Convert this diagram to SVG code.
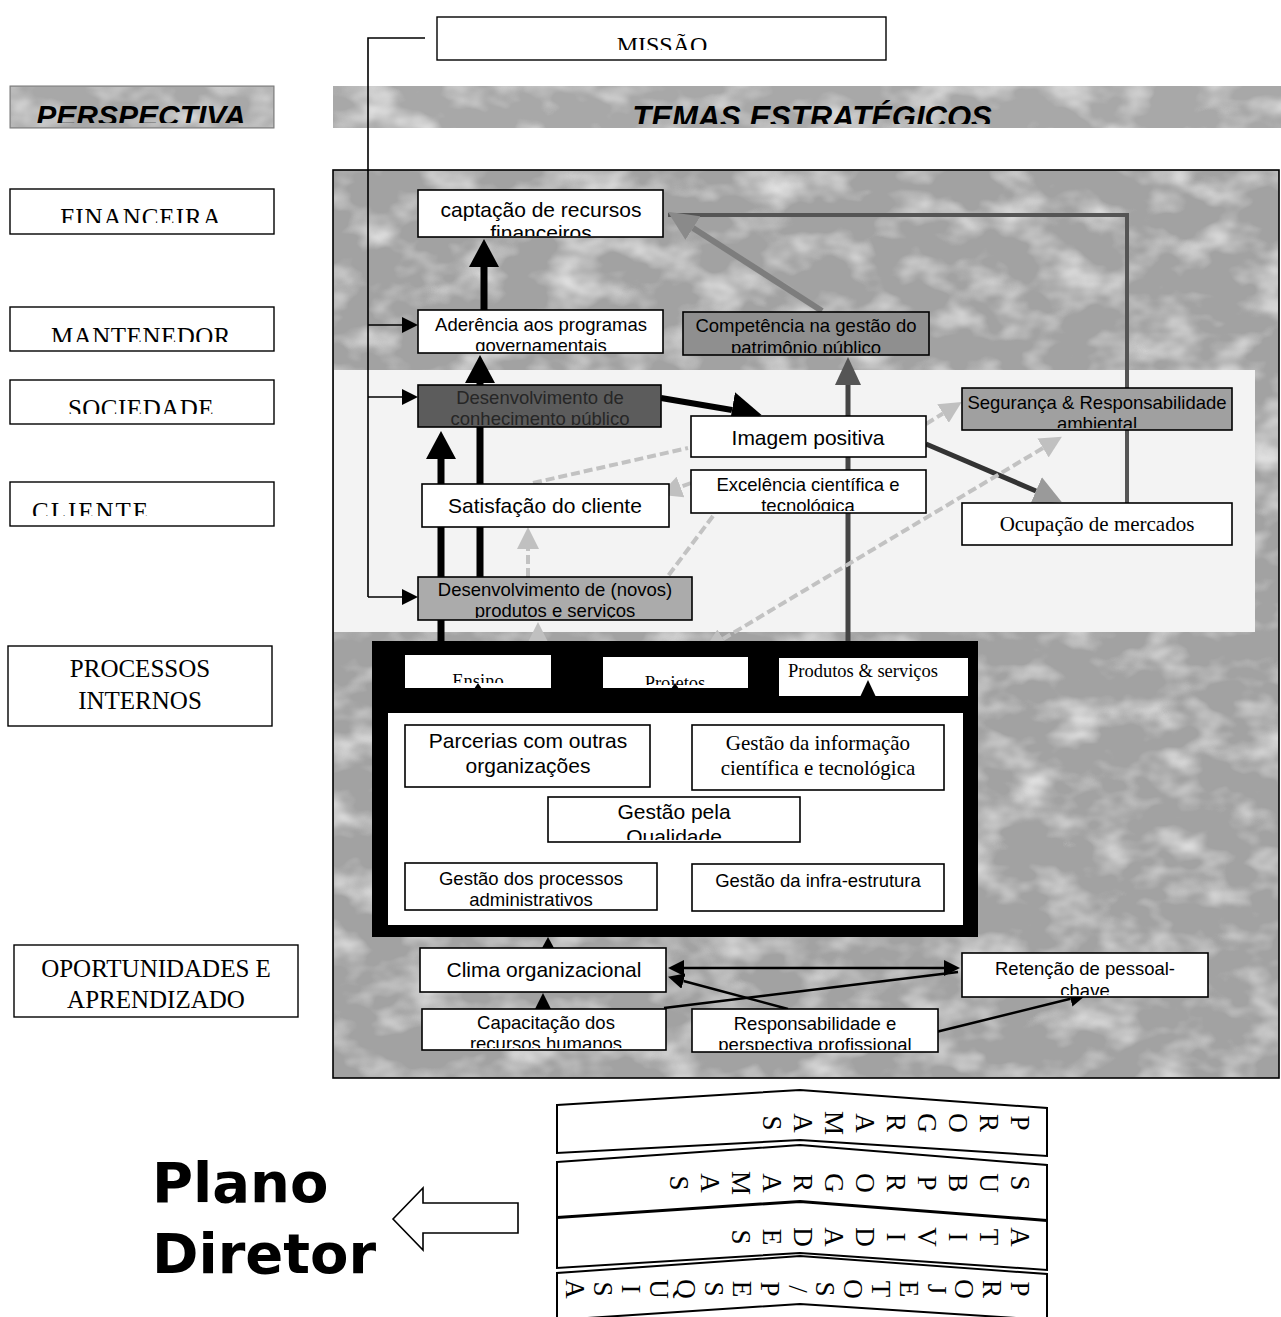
<svg xmlns="http://www.w3.org/2000/svg" width="1281" height="1317" viewBox="0 0 1281 1317">
<style>
.sans{font-family:"Liberation Sans",Arial,sans-serif;fill:#000}
.serif{font-family:"Liberation Serif","Times New Roman",serif;fill:#000}
.box{fill:#fff;stroke:#000;stroke-width:1.6}
.lbl{fill:#fff;stroke:#000;stroke-width:1.4}
.f21{font-size:21px}
.f18{font-size:18.5px}
.f25{font-size:25px}
.mid{text-anchor:middle}
.band{fill:#fff;stroke:#000;stroke-width:2}
.rot{font-family:"Liberation Serif","Times New Roman",serif;font-size:27px;text-anchor:middle;dominant-baseline:central}
.thick{stroke:#000;stroke-width:7;fill:none}
.thin{stroke:#000;stroke-width:1.6;fill:none}
.med{stroke:#000;stroke-width:2.5;fill:none}
.faint{stroke:#c2c2c2;stroke-width:4;fill:none;stroke-dasharray:9 4}
.big{font-family:"DejaVu Sans",Verdana,sans-serif;font-weight:bold;font-size:56px;fill:#000}
</style>
<defs>
<filter id="tex" x="0" y="0" width="1" height="1" color-interpolation-filters="sRGB">
<feTurbulence type="fractalNoise" baseFrequency="0.02 0.03" numOctaves="3" seed="7"/>
<feColorMatrix type="matrix" values="0 0 0 0 1  0 0 0 0 1  0 0 0 0 1  1.6 0 0 0 -0.72"/>
</filter>
<marker id="mBig" viewBox="0 0 28 30" refX="0" refY="15" markerWidth="28" markerHeight="30" markerUnits="userSpaceOnUse" orient="auto"><path d="M0,0 L28,15 L0,30 z" fill="#000"/></marker>
<marker id="mBig2" viewBox="0 0 30 36" refX="0" refY="18" markerWidth="30" markerHeight="36" markerUnits="userSpaceOnUse" orient="auto"><path d="M0,0 L30,18 L0,36 z" fill="#000"/></marker>
<marker id="mGrey" viewBox="0 0 30 28" refX="0" refY="14" markerWidth="30" markerHeight="28" markerUnits="userSpaceOnUse" orient="auto"><path d="M0,0 L30,14 L0,28 z" fill="#8a8a8a"/></marker>
<marker id="mDGrey" viewBox="0 0 28 26" refX="0" refY="13" markerWidth="28" markerHeight="26" markerUnits="userSpaceOnUse" orient="auto"><path d="M0,0 L28,13 L0,26 z" fill="#555"/></marker>
<marker id="mLGrey" viewBox="0 0 28 30" refX="0" refY="15" markerWidth="28" markerHeight="30" markerUnits="userSpaceOnUse" orient="auto"><path d="M0,0 L28,15 L0,30 z" fill="#9a9a9a"/></marker>
<marker id="mFaint" viewBox="0 0 22 22" refX="0" refY="11" markerWidth="22" markerHeight="22" markerUnits="userSpaceOnUse" orient="auto-start-reverse"><path d="M0,0 L22,11 L0,22 z" fill="#c0c0c0"/></marker>
<marker id="mSmall" viewBox="0 0 16 16" refX="0" refY="8" markerWidth="16" markerHeight="16" markerUnits="userSpaceOnUse" orient="auto-start-reverse"><path d="M0,0 L16,8 L0,16 z" fill="#000"/></marker>
<marker id="mXs" viewBox="0 0 11 12" refX="0" refY="6" markerWidth="11" markerHeight="12" markerUnits="userSpaceOnUse" orient="auto"><path d="M0,0 L11,6 L0,12 z" fill="#000"/></marker>
<clipPath id="cMissao"><rect x="438" y="18" width="447" height="32"/></clipPath>
<clipPath id="cFin"><rect x="11" y="190" width="262" height="33"/></clipPath>
<clipPath id="cMan"><rect x="11" y="308" width="262" height="34"/></clipPath>
<clipPath id="cSoc"><rect x="11" y="381" width="262" height="33"/></clipPath>
<clipPath id="cCli"><rect x="11" y="483" width="262" height="33"/></clipPath>
<clipPath id="cPer"><rect x="10" y="86" width="264" height="37"/></clipPath>
<clipPath id="cTem"><rect x="333" y="86" width="948" height="38"/></clipPath>
<clipPath id="cCap"><rect x="418" y="190" width="245" height="46"/></clipPath>
<clipPath id="cAde"><rect x="418" y="310" width="245" height="41"/></clipPath>
<clipPath id="cCom"><rect x="683" y="312" width="246" height="41"/></clipPath>
<clipPath id="cDco"><rect x="418" y="385" width="243" height="40"/></clipPath>
<clipPath id="cSeg"><rect x="962" y="388" width="270" height="40"/></clipPath>
<clipPath id="cExc"><rect x="691" y="470" width="235" height="41"/></clipPath>
<clipPath id="cDno"><rect x="418" y="577" width="274" height="41"/></clipPath>
<clipPath id="cEns"><rect x="405" y="655" width="146" height="28"/></clipPath>
<clipPath id="cPro"><rect x="603" y="657" width="145" height="28"/></clipPath>
<clipPath id="cQua"><rect x="548" y="797" width="252" height="43"/></clipPath>
<clipPath id="cAdm"><rect x="405" y="863" width="252" height="45"/></clipPath>
<clipPath id="cRet"><rect x="962" y="953" width="246" height="42"/></clipPath>
<clipPath id="cCpt"><rect x="422" y="1009" width="244" height="39"/></clipPath>
<clipPath id="cRes"><rect x="692" y="1009" width="246" height="41"/></clipPath>
</defs>

<rect width="1281" height="1317" fill="#fff"/>

<g id="background">
<rect x="333" y="170" width="946" height="908" fill="#a2a2a2" stroke="#000" stroke-width="1.6"/>
<rect x="334" y="171" width="944" height="906" filter="url(#tex)"/>
<rect x="334" y="370" width="921" height="262" fill="#f3f3f3"/>
</g>

<g id="banner-perspectiva">
<rect x="10" y="86" width="264" height="42" fill="#a8a8a8" stroke="#777" stroke-width="1"/>
<rect x="11" y="87" width="262" height="40" filter="url(#tex)"/>
<text class="sans" x="141" y="126" font-size="30" font-weight="bold" font-style="italic" text-anchor="middle" clip-path="url(#cPer)">PERSPECTIVA</text>
</g>
<g id="banner-temas">
<rect x="333" y="86" width="948" height="42" fill="#a8a8a8"/>
<rect x="333" y="86" width="948" height="42" filter="url(#tex)"/>
<text class="sans" x="812" y="128" font-size="31" font-weight="bold" font-style="italic" text-anchor="middle" clip-path="url(#cTem)">TEMAS ESTRATÉGICOS</text>
</g>

<g id="connectors">
<polyline class="thin" points="425,38 368,38 368,597"/>
<line class="thin" x1="368" y1="325" x2="402" y2="325" marker-end="url(#mSmall)"/>
<line class="thin" x1="368" y1="397" x2="402" y2="397" marker-end="url(#mSmall)"/>
<line class="thin" x1="368" y1="597" x2="402" y2="597" marker-end="url(#mSmall)"/>
<polyline points="1127,503 1127,215 668,215" fill="none" stroke="#555" stroke-width="4"/>
<line x1="822" y1="311" x2="693" y2="228" stroke="#7d7d7d" stroke-width="6" marker-end="url(#mGrey)"/>
<line x1="848" y1="641" x2="848" y2="385" stroke="#444" stroke-width="5" marker-end="url(#mDGrey)"/>
<line x1="926" y1="444" x2="1036" y2="491" stroke="#333" stroke-width="5" marker-end="url(#mLGrey)"/>
<line class="thick" x1="484" y1="310" x2="484" y2="267" marker-end="url(#mBig)"/>
<line class="thick" x1="480" y1="577" x2="480" y2="383" marker-end="url(#mBig)"/>
<line class="thick" x1="441" y1="641" x2="441" y2="459" marker-end="url(#mBig)"/>
<line x1="661" y1="398" x2="732" y2="410" stroke="#000" stroke-width="6" marker-end="url(#mBig2)"/>
<line class="faint" x1="1043" y1="448" x2="723" y2="639" marker-start="url(#mFaint)" marker-end="url(#mFaint)"/>
<line class="faint" x1="926" y1="424" x2="943" y2="413.5" marker-end="url(#mFaint)"/>
<line class="faint" x1="691" y1="483" x2="680.5" y2="487" marker-end="url(#mFaint)"/>
<line class="faint" x1="533" y1="483" x2="688" y2="448" stroke-width="3"/>
<line class="faint" x1="713" y1="516" x2="668" y2="576" stroke-width="3"/>
<line class="faint" x1="528" y1="577" x2="528" y2="549" marker-end="url(#mFaint)"/>
<line class="faint" x1="538" y1="648" x2="538" y2="644" marker-end="url(#mFaint)"/>
<line class="thin" x1="548" y1="950" x2="548" y2="948" marker-end="url(#mXs)"/>
<line class="thin" x1="543" y1="1011" x2="543" y2="1009" marker-end="url(#mSmall)"/>
<line class="med" x1="684" y1="968" x2="944" y2="968" marker-start="url(#mSmall)" marker-end="url(#mSmall)"/>
<line class="med" x1="664" y1="1008" x2="958" y2="972"/>
<line class="med" x1="788" y1="1009" x2="683.5" y2="981" marker-end="url(#mSmall)"/>
<line class="med" x1="936" y1="1032" x2="1070.5" y2="998.8" marker-end="url(#mSmall)"/>
</g>

<g id="missao">
<rect class="lbl" x="437" y="17" width="449" height="43"/>
<text class="serif mid" x="662" y="53" font-size="24" clip-path="url(#cMissao)">MISSÃO</text>
</g>

<g id="financeira">
<rect class="lbl" x="10" y="189" width="264" height="45"/>
<text class="serif f25 mid" x="141" y="226" letter-spacing="1" clip-path="url(#cFin)">FINANCEIRA</text>
</g>
<g id="mantenedor">
<rect class="lbl" x="10" y="307" width="264" height="44"/>
<text class="serif f25 mid" x="141" y="345" letter-spacing="0.5" clip-path="url(#cMan)">MANTENEDOR</text>
</g>
<g id="sociedade">
<rect class="lbl" x="10" y="380" width="264" height="44"/>
<text class="serif f25 mid" x="141" y="417" letter-spacing="0.5" clip-path="url(#cSoc)">SOCIEDADE</text>
</g>
<g id="cliente">
<rect class="lbl" x="10" y="482" width="264" height="44"/>
<text class="serif f25" x="32" y="520" letter-spacing="2" clip-path="url(#cCli)">CLIENTE</text>
</g>
<g id="processos-internos">
<rect class="lbl" x="8" y="646" width="264" height="80"/>
<text class="serif f25 mid" x="140" y="677">PROCESSOS</text>
<text class="serif f25 mid" x="140" y="709">INTERNOS</text>
</g>
<g id="oportunidades">
<rect class="lbl" x="14" y="945" width="284" height="72"/>
<text class="serif f25 mid" x="156" y="977">OPORTUNIDADES E</text>
<text class="serif f25 mid" x="156" y="1008">APRENDIZADO</text>
</g>

<g id="captacao">
<rect class="box" x="418" y="190" width="245" height="47"/>
<g clip-path="url(#cCap)">
<text class="sans f21 mid" x="541" y="217">captação de recursos</text>
<text class="sans f21 mid" x="541" y="240">financeiros</text>
</g>
</g>
<g id="aderencia">
<rect class="box" x="418" y="310" width="245" height="43"/>
<g clip-path="url(#cAde)">
<text class="sans f18 mid" x="541" y="331">Aderência aos programas</text>
<text class="sans f18 mid" x="541" y="352">governamentais</text>
</g>
</g>
<g id="competencia">
<rect x="683" y="312" width="246" height="43" fill="#8f8f8f" stroke="#000" stroke-width="1.6"/>
<g clip-path="url(#cCom)">
<text class="sans f18 mid" x="806" y="332" fill="#111">Competência na gestão do</text>
<text class="sans f18 mid" x="806" y="354" fill="#111">patrimônio público</text>
</g>
</g>
<g id="desenv-conhecimento">
<rect x="418" y="385" width="243" height="42" fill="#5c5c5c" stroke="#000" stroke-width="1.6"/>
<g clip-path="url(#cDco)">
<text class="sans f18 mid" x="540" y="404" style="fill:#262626">Desenvolvimento de</text>
<text class="sans f18 mid" x="540" y="425" style="fill:#262626">conhecimento público</text>
</g>
</g>
<g id="seguranca">
<rect x="962" y="388" width="270" height="42" fill="#a0a0a0" stroke="#000" stroke-width="1.6"/>
<g clip-path="url(#cSeg)">
<text class="sans f18 mid" x="1097" y="409">Segurança &amp; Responsabilidade</text>
<text class="sans f18 mid" x="1097" y="430">ambiental</text>
</g>
</g>
<g id="imagem">
<rect class="box" x="691" y="416" width="235" height="41"/>
<text class="sans f21 mid" x="808" y="445">Imagem positiva</text>
</g>
<g id="excelencia">
<rect class="box" x="691" y="470" width="235" height="43"/>
<g clip-path="url(#cExc)">
<text class="sans f18 mid" x="808" y="491">Excelência científica e</text>
<text class="sans f18 mid" x="808" y="512">tecnológica</text>
</g>
</g>
<g id="satisfacao">
<rect class="box" x="422" y="484" width="247" height="43"/>
<text class="sans f21 mid" x="545" y="513">Satisfação do cliente</text>
</g>
<g id="ocupacao">
<rect class="box" x="962" y="503" width="270" height="42"/>
<text class="serif mid" x="1097" y="531" font-size="21">Ocupação de mercados</text>
</g>
<g id="desenv-novos">
<rect x="418" y="577" width="274" height="43" fill="#ababab" stroke="#000" stroke-width="1.6"/>
<g clip-path="url(#cDno)">
<text class="sans f18 mid" x="555" y="596">Desenvolvimento de (novos)</text>
<text class="sans f18 mid" x="555" y="617">produtos e serviços</text>
</g>
</g>

<g id="processos-block">
<rect x="372" y="641" width="606" height="296" fill="#000"/>
<rect x="405" y="655" width="146" height="33" fill="#fff"/>
<rect x="603" y="657" width="145" height="31" fill="#fff"/>
<rect x="779" y="658" width="189" height="38" fill="#fff"/>
<text class="serif f18 mid" x="478" y="687" clip-path="url(#cEns)">Ensino</text>
<text class="serif f18 mid" x="675" y="689" clip-path="url(#cPro)">Projetos</text>
<text class="serif f18 mid" x="863" y="677">Produtos &amp; serviços</text>
<polygon points="478,683 474,689 482,689" fill="#000"/>
<polygon points="675,683 671,689 679,689" fill="#000"/>
<polygon points="868,680 860,697 876,697" fill="#000"/>
<rect x="388" y="713" width="575" height="212" fill="#fff"/>
</g>
<g id="parcerias">
<rect class="box" x="405" y="725" width="245" height="62"/>
<text class="sans f21 mid" x="528" y="748">Parcerias com outras</text>
<text class="sans f21 mid" x="528" y="773">organizações</text>
</g>
<g id="gestao-informacao">
<rect class="box" x="692" y="725" width="252" height="65"/>
<text class="serif f21 mid" x="818" y="750">Gestão da informação</text>
<text class="serif f21 mid" x="818" y="775">científica e tecnológica</text>
</g>
<g id="gestao-qualidade">
<rect class="box" x="548" y="797" width="252" height="45"/>
<g clip-path="url(#cQua)">
<text class="sans f21 mid" x="674" y="819">Gestão pela</text>
<text class="sans f21 mid" x="674" y="844">Qualidade</text>
</g>
</g>
<g id="gestao-processos">
<rect class="box" x="405" y="863" width="252" height="47"/>
<g clip-path="url(#cAdm)">
<text class="sans f18 mid" x="531" y="885">Gestão dos processos</text>
<text class="sans f18 mid" x="531" y="906">administrativos</text>
</g>
</g>
<g id="gestao-infra">
<rect class="box" x="692" y="864" width="252" height="47"/>
<text class="sans f18 mid" x="818" y="887">Gestão da infra-estrutura</text>
</g>

<g id="clima">
<rect class="box" x="420" y="948" width="246" height="44"/>
<text class="sans f21 mid" x="544" y="977">Clima organizacional</text>
</g>
<g id="retencao">
<rect class="box" x="962" y="953" width="246" height="44"/>
<g clip-path="url(#cRet)">
<text class="sans f18 mid" x="1085" y="975">Retenção de pessoal-</text>
<text class="sans f18 mid" x="1085" y="997">chave</text>
</g>
</g>
<g id="capacitacao">
<rect class="box" x="422" y="1009" width="244" height="41"/>
<g clip-path="url(#cCpt)">
<text class="sans f18 mid" x="546" y="1029">Capacitação dos</text>
<text class="sans f18 mid" x="546" y="1050">recursos humanos</text>
</g>
</g>
<g id="responsabilidade">
<rect class="box" x="692" y="1009" width="246" height="43"/>
<g clip-path="url(#cRes)">
<text class="sans f18 mid" x="815" y="1030">Responsabilidade e</text>
<text class="sans f18 mid" x="815" y="1051">perspectiva profissional</text>
</g>
</g>

<g id="plano-diretor">
<text class="big" x="152" y="1202">Plano</text>
<text class="big" x="152" y="1273">Diretor</text>
<polygon points="393,1219 423,1188 423,1203 518,1203 518,1233 423,1233 423,1250" fill="#fff" stroke="#000" stroke-width="1.6"/>
</g>

<g id="band-programas">
<path class="band" d="M557,1105 L800,1090 L1047,1108 L1047,1156 L800,1140 L557,1153 Z"/>
<g class="rot">
<text x="1020" y="1123" transform="rotate(90 1020 1123)">P</text>
<text x="989" y="1123" transform="rotate(90 989 1123)">R</text>
<text x="958" y="1123" transform="rotate(90 958 1123)">O</text>
<text x="927" y="1123" transform="rotate(90 927 1123)">G</text>
<text x="896" y="1123" transform="rotate(90 896 1123)">R</text>
<text x="865" y="1123" transform="rotate(90 865 1123)">A</text>
<text x="834" y="1123" transform="rotate(90 834 1123)">M</text>
<text x="803" y="1123" transform="rotate(90 803 1123)">A</text>
<text x="772" y="1123" transform="rotate(90 772 1123)">S</text>
</g>
</g>
<g id="band-subprogramas">
<path class="band" d="M557,1162 L800,1145 L1047,1165 L1047,1220 L800,1201 L557,1217 Z"/>
<g class="rot">
<text x="1020" y="1183" transform="rotate(90 1020 1183)">S</text>
<text x="989" y="1183" transform="rotate(90 989 1183)">U</text>
<text x="958" y="1183" transform="rotate(90 958 1183)">B</text>
<text x="927" y="1183" transform="rotate(90 927 1183)">P</text>
<text x="896" y="1183" transform="rotate(90 896 1183)">R</text>
<text x="865" y="1183" transform="rotate(90 865 1183)">O</text>
<text x="834" y="1183" transform="rotate(90 834 1183)">G</text>
<text x="803" y="1183" transform="rotate(90 803 1183)">R</text>
<text x="772" y="1183" transform="rotate(90 772 1183)">A</text>
<text x="741" y="1183" transform="rotate(90 741 1183)">M</text>
<text x="710" y="1183" transform="rotate(90 710 1183)">A</text>
<text x="679" y="1183" transform="rotate(90 679 1183)">S</text>
</g>
</g>
<g id="band-atividades">
<path class="band" d="M557,1218 L800,1202 L1047,1221 L1047,1270 L800,1253 L557,1268 Z"/>
<g class="rot">
<text x="1020" y="1237" transform="rotate(90 1020 1237)">A</text>
<text x="989" y="1237" transform="rotate(90 989 1237)">T</text>
<text x="958" y="1237" transform="rotate(90 958 1237)">I</text>
<text x="927" y="1237" transform="rotate(90 927 1237)">V</text>
<text x="896" y="1237" transform="rotate(90 896 1237)">I</text>
<text x="865" y="1237" transform="rotate(90 865 1237)">D</text>
<text x="834" y="1237" transform="rotate(90 834 1237)">A</text>
<text x="803" y="1237" transform="rotate(90 803 1237)">D</text>
<text x="772" y="1237" transform="rotate(90 772 1237)">E</text>
<text x="741" y="1237" transform="rotate(90 741 1237)">S</text>
</g>
</g>
<g id="band-projetos">
<path class="band" d="M557,1320 L557,1273 L800,1256 L1047,1274 L1047,1320"/>
<path d="M557,1320 L800,1304 L1047,1320" fill="none" stroke="#000" stroke-width="2"/>
<g class="rot">
<text x="1020" y="1289" transform="rotate(90 1020 1289)">P</text>
<text x="992.2" y="1289" transform="rotate(90 992.2 1289)">R</text>
<text x="964.4" y="1289" transform="rotate(90 964.4 1289)">O</text>
<text x="936.6" y="1289" transform="rotate(90 936.6 1289)">J</text>
<text x="908.8" y="1289" transform="rotate(90 908.8 1289)">E</text>
<text x="881" y="1289" transform="rotate(90 881 1289)">T</text>
<text x="853.2" y="1289" transform="rotate(90 853.2 1289)">O</text>
<text x="825.4" y="1289" transform="rotate(90 825.4 1289)">S</text>
<text x="797.6" y="1289" transform="rotate(90 797.6 1289)">/</text>
<text x="769.8" y="1289" transform="rotate(90 769.8 1289)">P</text>
<text x="742" y="1289" transform="rotate(90 742 1289)">E</text>
<text x="714.2" y="1289" transform="rotate(90 714.2 1289)">S</text>
<text x="686.4" y="1289" transform="rotate(90 686.4 1289)">Q</text>
<text x="658.6" y="1289" transform="rotate(90 658.6 1289)">U</text>
<text x="630.8" y="1289" transform="rotate(90 630.8 1289)">I</text>
<text x="603" y="1289" transform="rotate(90 603 1289)">S</text>
<text x="575.2" y="1289" transform="rotate(90 575.2 1289)">A</text>
</g>
</g>
</svg>
